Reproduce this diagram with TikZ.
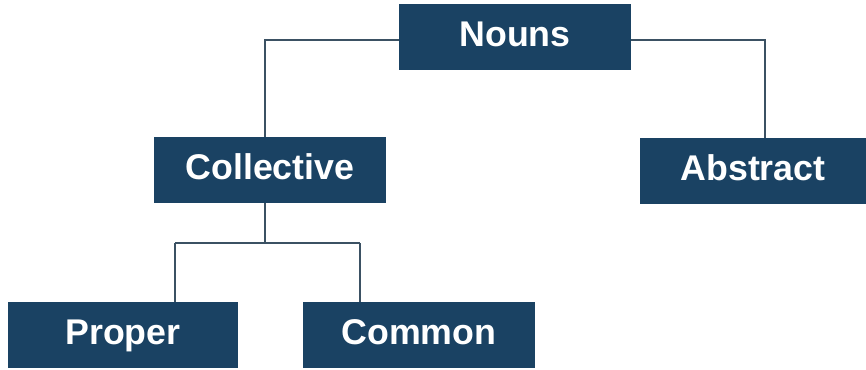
\documentclass[tikz,border=0pt]{standalone}
\usepackage{fontspec}
\setmainfont{Liberation Sans}
\usepackage{tikz}
\usetikzlibrary{positioning}
\definecolor{navy}{HTML}{1A4263}
\definecolor{wire}{HTML}{3B5163}
\tikzstyle{nbox} =
[
	rectangle,fill=navy,text=white,font=\bfseries\fontsize{30.5}{33}\selectfont,
	minimum width=232*0.03cm, minimum height=66*0.03cm, inner sep=0pt,
	text height=22pt, text depth=6pt
]
\tikzstyle{link} =
[
	draw=wire,line width=1.2pt
]

\begin{document}
\begin{tikzpicture}[x=0.03cm,y=-0.03cm]
\useasboundingbox (0,0) rectangle (866,370);

\node[nbox] (N1) at (515,37) {Nouns};
\node[nbox] (C1) at (270,170) {Collective};
\node[nbox, minimum width=226*0.03cm] (A1) at (753,171) {Abstract};
\node[nbox, minimum width=230*0.03cm] (P1) at (123,335) {Proper};
\node[nbox] (C2) at (419,335) {Common};
%
\coordinate (T1) at (265,40);
\coordinate (T2) at (765,40);
\coordinate (J0) at (265,243);
\coordinate (J1) at (175,243);
\coordinate (J2) at (360,243);

\path[link]
	(N1.west |- T1) -- (T1) -- (T1 |- C1.north)
	(N1.east |- T2) -- (T2) -- (T2 |- A1.north);

\path[link]
	(J0 |- C1.south) -- (J0)
	(J1) -- (J2)
	(J1) -- (J1 |- P1.north)
	(J2) -- (J2 |- C2.north);

\end{tikzpicture}
\end{document}
